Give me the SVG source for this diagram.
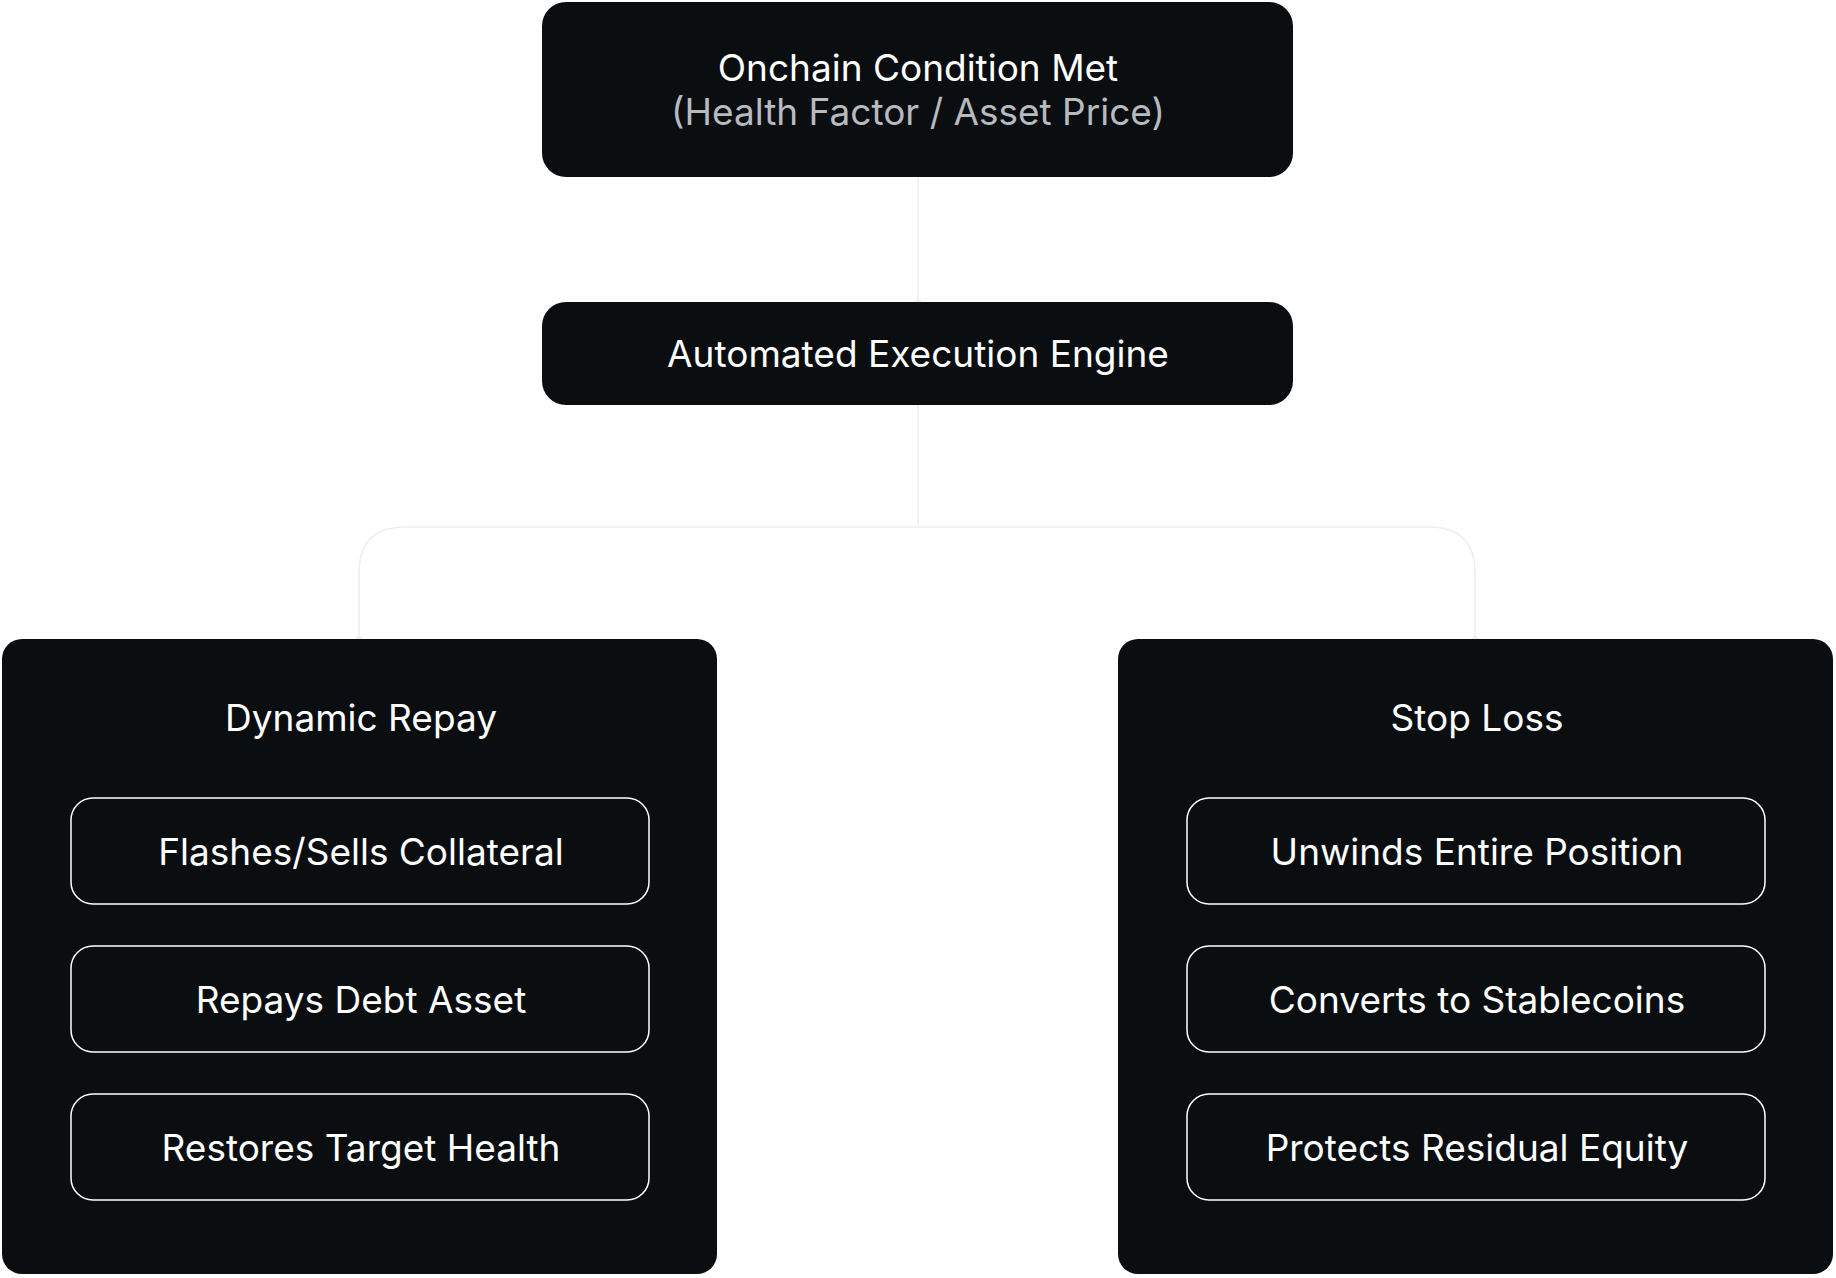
<svg xmlns="http://www.w3.org/2000/svg" width="1836" height="1278" viewBox="0 0 1836 1278">
<style>
.box{fill:#0b0e11}
.inner{fill:#0b0e11;stroke:#ffffff;stroke-width:1.5}
text{font-family:Inter,"Noto Sans",sans-serif;font-size:37px;fill:#ffffff;text-anchor:middle;dominant-baseline:central}
.sub{fill:#b7babf}
.conn{fill:none;stroke:#eeeeee;stroke-width:1.5}
</style>
<rect width="1836" height="1278" fill="#ffffff"/>
<g id="connectors">
<path class="conn" d="M918 177 V302"/>
<path class="conn" d="M918 405 V527 M918 527 H405 Q359 527 359 573 V639 M918 527 H1429 Q1475 527 1475 573 V639"/>
<circle cx="918" cy="302" r="3" fill="#eeeeee"/>
<circle cx="359" cy="639" r="3" fill="#eeeeee"/>
<circle cx="1475" cy="639" r="3" fill="#eeeeee"/>
</g>
<g id="n1"><rect class="box" x="542" y="2" width="751" height="175" rx="24"/>
<text x="918" y="67">Onchain Condition Met</text>
<text class="sub" x="918" y="111">(Health Factor / Asset Price)</text></g>
<g id="n2"><rect class="box" x="542" y="302" width="751" height="103" rx="24"/>
<text x="918" y="353">Automated Execution Engine</text></g>
<g id="left"><rect class="box" x="2" y="639" width="715" height="635" rx="20"/>
<text x="361" y="717">Dynamic Repay</text>
<g id="l1"><rect class="inner" x="71" y="798" width="578" height="106" rx="22"/><text x="361" y="851">Flashes/Sells Collateral</text></g>
<g id="l2"><rect class="inner" x="71" y="946" width="578" height="106" rx="22"/><text x="361" y="999">Repays Debt Asset</text></g>
<g id="l3"><rect class="inner" x="71" y="1094" width="578" height="106" rx="22"/><text x="361" y="1147">Restores Target Health</text></g>
</g>
<g id="right"><rect class="box" x="1118" y="639" width="715" height="635" rx="20"/>
<text x="1477" y="717">Stop Loss</text>
<g id="r1"><rect class="inner" x="1187" y="798" width="578" height="106" rx="22"/><text x="1477" y="851">Unwinds Entire Position</text></g>
<g id="r2"><rect class="inner" x="1187" y="946" width="578" height="106" rx="22"/><text x="1477" y="999">Converts to Stablecoins</text></g>
<g id="r3"><rect class="inner" x="1187" y="1094" width="578" height="106" rx="22"/><text x="1477" y="1147">Protects Residual Equity</text></g>
</g>
</svg>
